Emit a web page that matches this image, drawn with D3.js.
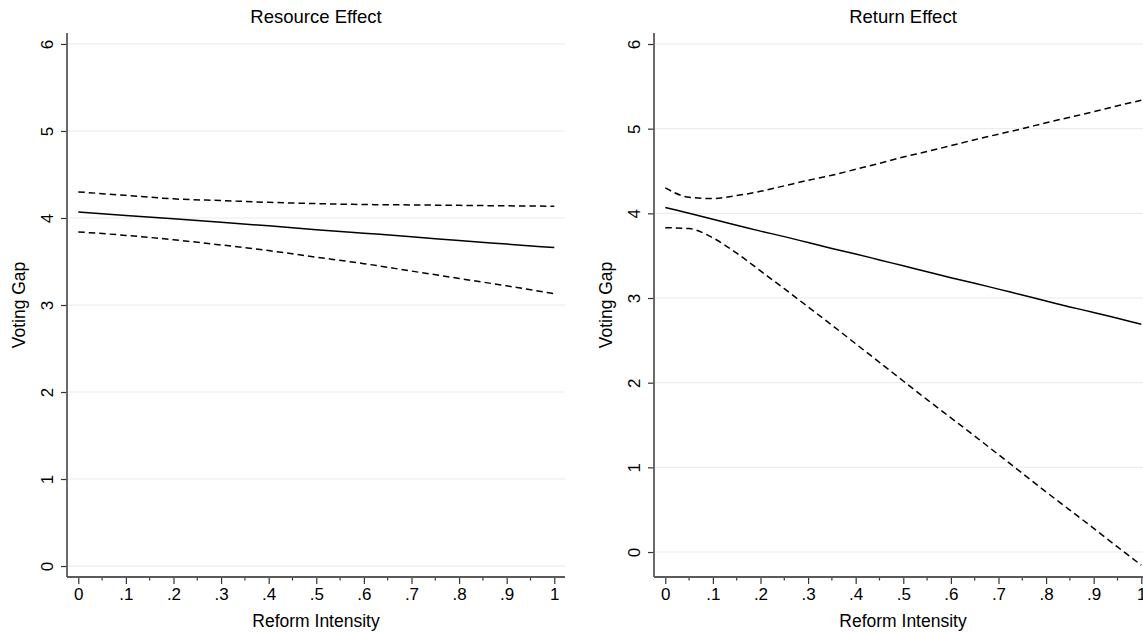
<!DOCTYPE html>
<html>
<head>
<meta charset="utf-8">
<script src="https://cdn.jsdelivr.net/npm/d3@7"></script>
<style>
  body { margin: 0; background: #fff; }
  text { font-family: "Liberation Sans", Arial, sans-serif; fill: #000; }
</style>
</head>
<body>
<div id="chart"></div>
<script>
// axis ticks
const xTicks = [0, 0.1, 0.2, 0.3, 0.4, 0.5, 0.6, 0.7, 0.8, 0.9, 1];
const xTickLabels = ["0", ".1", ".2", ".3", ".4", ".5", ".6", ".7", ".8", ".9", "1"];
const xMinorTicks = [0.05, 0.15, 0.25, 0.35, 0.45, 0.55, 0.65, 0.75, 0.85, 0.95];
const yTicks = [0, 1, 2, 3, 4, 5, 6];

// Resource Effect panel
const resourceX = [0, 0.1, 0.2, 0.3, 0.4, 0.5, 0.6, 0.7, 0.8, 0.9, 1];
const resourceFit = [4.07, 4.03, 3.99, 3.95, 3.91, 3.865, 3.825, 3.785, 3.74, 3.70, 3.66];
const resourceUpper = [4.30, 4.26, 4.22, 4.20, 4.18, 4.165, 4.155, 4.15, 4.145, 4.14, 4.135];
const resourceLower = [3.84, 3.80, 3.75, 3.69, 3.625, 3.55, 3.475, 3.39, 3.305, 3.22, 3.13];

// Return Effect panel
const returnX = [0, 0.05, 0.1, 0.15, 0.2, 0.25, 0.3, 0.35, 0.4, 0.45, 0.5,
  0.55, 0.6, 0.65, 0.7, 0.75, 0.8, 0.85, 0.9, 0.95, 1];
const returnFit = [4.07, 4.00, 3.93, 3.86, 3.79, 3.725, 3.655, 3.585, 3.52, 3.45, 3.38,
  3.31, 3.24, 3.175, 3.105, 3.035, 2.965, 2.895, 2.83, 2.76, 2.69];
const returnUpper = [4.30, 4.19, 4.175, 4.21, 4.26, 4.325, 4.39, 4.45, 4.52, 4.59, 4.665,
  4.73, 4.80, 4.87, 4.935, 5.00, 5.07, 5.135, 5.20, 5.27, 5.335];
const returnLower = [3.83, 3.82, 3.71, 3.53, 3.32, 3.11, 2.895, 2.68, 2.46, 2.24, 2.02,
  1.80, 1.585, 1.37, 1.15, 0.93, 0.71, 0.495, 0.28, 0.06, -0.155];

const width = 1143;
const height = 632;
const plotTop = 33;
const plotBottom = 577;
const plotWidth = 498;

const panels = [
  {
    title: "Resource Effect",
    left: 67,
    yDomain: [-0.126, 6.126],
    xs: resourceX, fit: resourceFit, upper: resourceUpper, lower: resourceLower
  },
  {
    title: "Return Effect",
    left: 654,
    yDomain: [-0.295, 6.13],
    xs: returnX, fit: returnFit, upper: returnUpper, lower: returnLower
  }
];

const svg = d3.select("#chart")
  .append("svg")
  .attr("width", width)
  .attr("height", height)
  .attr("viewBox", [0, 0, width, height]);

panels.forEach(function (p) {
  const x = d3.scaleLinear()
    .domain([-0.0237, 1.0225])
    .range([p.left, p.left + plotWidth]);

  const y = d3.scaleLinear()
    .domain(p.yDomain)
    .range([plotBottom, plotTop]);

  const g = svg.append("g");

  // grid
  g.selectAll("line.grid")
    .data(yTicks)
    .join("line")
    .attr("class", "grid")
    .attr("x1", p.left)
    .attr("x2", p.left + plotWidth)
    .attr("y1", function (d) { return y(d); })
    .attr("y2", function (d) { return y(d); })
    .attr("stroke", "#e6eef1")
    .attr("stroke-width", 1.2);

  // y axis
  const yAxis = g.append("g")
    .attr("transform", `translate(${p.left},0)`)
    .call(d3.axisLeft(y)
      .tickValues(yTicks)
      .tickFormat(d3.format("d"))
      .tickSize(6)
      .tickPadding(0)
      .tickSizeOuter(0));
  yAxis.select(".domain").remove();
  yAxis.selectAll(".tick line").attr("stroke", "#333").attr("stroke-width", 1.2);
  yAxis.selectAll(".tick text")
    .attr("x", null).attr("dy", null)
    .attr("transform", "translate(-14,0) rotate(-90)")
    .attr("text-anchor", "middle")
    .style("font-size", "17px");

  // x axis
  const xAxis = g.append("g")
    .attr("transform", `translate(0,${plotBottom})`)
    .call(d3.axisBottom(x)
      .tickValues(xTicks)
      .tickFormat(function (d, i) { return xTickLabels[i]; })
      .tickSize(7)
      .tickPadding(4)
      .tickSizeOuter(0));
  xAxis.select(".domain").remove();
  xAxis.selectAll(".tick line").attr("stroke", "#333").attr("stroke-width", 1.2);
  xAxis.selectAll(".tick text").style("font-size", "17px");

  g.selectAll("line.minor")
    .data(xMinorTicks)
    .join("line")
    .attr("class", "minor")
    .attr("x1", function (d) { return x(d); })
    .attr("x2", function (d) { return x(d); })
    .attr("y1", plotBottom)
    .attr("y2", plotBottom + 3.5)
    .attr("stroke", "#333")
    .attr("stroke-width", 1.2);

  // axis lines
  g.append("line")
    .attr("x1", p.left).attr("x2", p.left)
    .attr("y1", plotTop).attr("y2", plotBottom)
    .attr("stroke", "#5a5a5a").attr("stroke-width", 1.8);
  g.append("line")
    .attr("x1", p.left).attr("x2", p.left + plotWidth)
    .attr("y1", plotBottom).attr("y2", plotBottom)
    .attr("stroke", "#5a5a5a").attr("stroke-width", 1.8);

  // lines
  const line = d3.line()
    .x(function (d) { return x(d[0]); })
    .y(function (d) { return y(d[1]); })
    .curve(d3.curveMonotoneX);

  [
    { values: p.upper, dash: "6.5,4" },
    { values: p.lower, dash: "6.5,4" },
    { values: p.fit, dash: null }
  ].forEach(function (s) {
    g.append("path")
      .datum(p.xs.map(function (v, i) { return [v, s.values[i]]; }))
      .attr("d", line)
      .attr("fill", "none")
      .attr("stroke", "#000")
      .attr("stroke-width", 1.5)
      .attr("stroke-dasharray", s.dash);
  });

  const cx = p.left + plotWidth / 2;

  g.append("text")
    .attr("x", cx)
    .attr("y", 23)
    .attr("text-anchor", "middle")
    .style("font-size", "18.5px")
    .text(p.title);

  g.append("text")
    .attr("x", cx)
    .attr("y", 627)
    .attr("text-anchor", "middle")
    .style("font-size", "17.5px")
    .text("Reform Intensity");

  g.append("text")
    .attr("transform", `translate(${p.left - 42},${(plotTop + plotBottom) / 2}) rotate(-90)`)
    .attr("text-anchor", "middle")
    .style("font-size", "17.5px")
    .text("Voting Gap");
});
</script>
</body>
</html>
